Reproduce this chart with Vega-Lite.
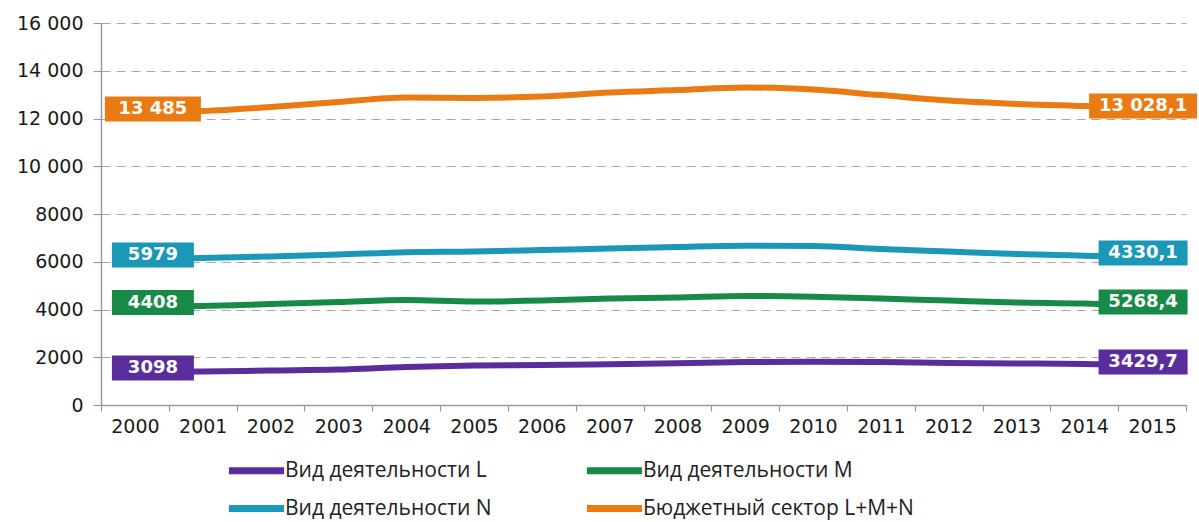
{
  "$schema": "https://vega.github.io/schema/vega-lite/v6.json",
  "width": 1085,
  "height": 382,
  "autosize": {"type": "none"},
  "padding": {"left": 101, "top": 23, "right": 13, "bottom": 117},
  "background": "white",
  "config": {
    "view": {"stroke": null},
    "axis": {"labelFont": "DejaVu Sans", "labelFontSize": 19, "labelColor": "#1a1a1a", "domainColor": "#9a9a9a", "tickColor": "#9a9a9a", "domainWidth": 1.5, "tickWidth": 1.2}
  },
  "datasets": {
    "lines": [
      {"series": "Вид деятельности L", "year": "2000", "value": 1380},
      {"series": "Вид деятельности L", "year": "2001", "value": 1400},
      {"series": "Вид деятельности L", "year": "2002", "value": 1445},
      {"series": "Вид деятельности L", "year": "2003", "value": 1485},
      {"series": "Вид деятельности L", "year": "2004", "value": 1590},
      {"series": "Вид деятельности L", "year": "2005", "value": 1655},
      {"series": "Вид деятельности L", "year": "2006", "value": 1675},
      {"series": "Вид деятельности L", "year": "2007", "value": 1705},
      {"series": "Вид деятельности L", "year": "2008", "value": 1745},
      {"series": "Вид деятельности L", "year": "2009", "value": 1800},
      {"series": "Вид деятельности L", "year": "2010", "value": 1815},
      {"series": "Вид деятельности L", "year": "2011", "value": 1800},
      {"series": "Вид деятельности L", "year": "2012", "value": 1760},
      {"series": "Вид деятельности L", "year": "2013", "value": 1740},
      {"series": "Вид деятельности L", "year": "2014", "value": 1715},
      {"series": "Вид деятельности L", "year": "2015", "value": 1635},
      {"series": "Вид деятельности M", "year": "2000", "value": 4125},
      {"series": "Вид деятельности M", "year": "2001", "value": 4145},
      {"series": "Вид деятельности M", "year": "2002", "value": 4230},
      {"series": "Вид деятельности M", "year": "2003", "value": 4315},
      {"series": "Вид деятельности M", "year": "2004", "value": 4400},
      {"series": "Вид деятельности M", "year": "2005", "value": 4335},
      {"series": "Вид деятельности M", "year": "2006", "value": 4375},
      {"series": "Вид деятельности M", "year": "2007", "value": 4460},
      {"series": "Вид деятельности M", "year": "2008", "value": 4500},
      {"series": "Вид деятельности M", "year": "2009", "value": 4565},
      {"series": "Вид деятельности M", "year": "2010", "value": 4535},
      {"series": "Вид деятельности M", "year": "2011", "value": 4460},
      {"series": "Вид деятельности M", "year": "2012", "value": 4375},
      {"series": "Вид деятельности M", "year": "2013", "value": 4295},
      {"series": "Вид деятельности M", "year": "2014", "value": 4250},
      {"series": "Вид деятельности M", "year": "2015", "value": 4145},
      {"series": "Вид деятельности N", "year": "2000", "value": 6115},
      {"series": "Вид деятельности N", "year": "2001", "value": 6160},
      {"series": "Вид деятельности N", "year": "2002", "value": 6220},
      {"series": "Вид деятельности N", "year": "2003", "value": 6300},
      {"series": "Вид деятельности N", "year": "2004", "value": 6400},
      {"series": "Вид деятельности N", "year": "2005", "value": 6430},
      {"series": "Вид деятельности N", "year": "2006", "value": 6490},
      {"series": "Вид деятельности N", "year": "2007", "value": 6555},
      {"series": "Вид деятельности N", "year": "2008", "value": 6620},
      {"series": "Вид деятельности N", "year": "2009", "value": 6670},
      {"series": "Вид деятельности N", "year": "2010", "value": 6660},
      {"series": "Вид деятельности N", "year": "2011", "value": 6535},
      {"series": "Вид деятельности N", "year": "2012", "value": 6430},
      {"series": "Вид деятельности N", "year": "2013", "value": 6325},
      {"series": "Вид деятельности N", "year": "2014", "value": 6255},
      {"series": "Вид деятельности N", "year": "2015", "value": 6200},
      {"series": "Бюджетный сектор L+M+N", "year": "2000", "value": 12230},
      {"series": "Бюджетный сектор L+M+N", "year": "2001", "value": 12310},
      {"series": "Бюджетный сектор L+M+N", "year": "2002", "value": 12480},
      {"series": "Бюджетный сектор L+M+N", "year": "2003", "value": 12690},
      {"series": "Бюджетный сектор L+M+N", "year": "2004", "value": 12880},
      {"series": "Бюджетный сектор L+M+N", "year": "2005", "value": 12860},
      {"series": "Бюджетный сектор L+M+N", "year": "2006", "value": 12920},
      {"series": "Бюджетный сектор L+M+N", "year": "2007", "value": 13090},
      {"series": "Бюджетный сектор L+M+N", "year": "2008", "value": 13190},
      {"series": "Бюджетный сектор L+M+N", "year": "2009", "value": 13300},
      {"series": "Бюджетный сектор L+M+N", "year": "2010", "value": 13210},
      {"series": "Бюджетный сектор L+M+N", "year": "2011", "value": 12980},
      {"series": "Бюджетный сектор L+M+N", "year": "2012", "value": 12750},
      {"series": "Бюджетный сектор L+M+N", "year": "2013", "value": 12610},
      {"series": "Бюджетный сектор L+M+N", "year": "2014", "value": 12520},
      {"series": "Бюджетный сектор L+M+N", "year": "2015", "value": 12360}
    ],
    "labels": [
      {"series": "Вид деятельности L", "year": "2000", "value": 1380, "label": "3098", "side": "left"},
      {"series": "Вид деятельности L", "year": "2015", "value": 1635, "label": "3429,7", "side": "right"},
      {"series": "Вид деятельности M", "year": "2000", "value": 4125, "label": "4408", "side": "left"},
      {"series": "Вид деятельности M", "year": "2015", "value": 4145, "label": "5268,4", "side": "right"},
      {"series": "Вид деятельности N", "year": "2000", "value": 6115, "label": "5979", "side": "left"},
      {"series": "Вид деятельности N", "year": "2015", "value": 6200, "label": "4330,1", "side": "right"},
      {"series": "Бюджетный сектор L+M+N", "year": "2000", "value": 12230, "label": "13 485", "side": "left"},
      {"series": "Бюджетный сектор L+M+N", "year": "2015", "value": 12360, "label": "13 028,1", "side": "right"}
    ]
  },
  "encoding": {
    "x": {
      "field": "year", "type": "ordinal", "bandPosition": 0.5,
      "scale": {"type": "band", "paddingInner": 0, "paddingOuter": 0},
      "axis": {"title": null, "labelAngle": 0, "tickBand": "extent", "tickSize": 6, "labelPadding": 6, "grid": false}
    },
    "y": {
      "field": "value", "type": "quantitative",
      "scale": {"domain": [0, 16000], "nice": false},
      "axis": {
        "title": null, "values": [0, 2000, 4000, 6000, 8000, 10000, 12000, 14000, 16000],
        "labelExpr": "datum.value >= 10000 ? replace(format(datum.value, ','), ',', ' ') : format(datum.value, 'd')",
        "grid": true, "gridDash": [9, 6], "gridColor": "#a8a8a8", "gridWidth": 1.2,
        "tickSize": 8, "labelPadding": 10
      }
    }
  },
  "layer": [
    {
      "data": {"name": "lines"},
      "mark": {"type": "line", "strokeWidth": 6, "interpolate": "monotone", "strokeCap": "butt"},
      "encoding": {
        "color": {
          "field": "series", "type": "nominal",
          "scale": {"domain": ["Вид деятельности L", "Вид деятельности M", "Вид деятельности N", "Бюджетный сектор L+M+N"], "range": ["#5a2d9c", "#178a48", "#1b98b7", "#ea7b12"]},
          "legend": {"orient": "none", "legendX": 132, "legendY": 424, "direction": "horizontal", "columns": 2, "title": null, "symbolType": "M-1.38,0L1.38,0", "symbolSize": 1600, "symbolStrokeWidth": 7, "labelFont": "Open Sans", "labelFontSize": 21, "labelLimit": 500, "labelColor": "#222222", "columnPadding": 80, "rowPadding": 0, "labelOffset": 5, "padding": 0}
        }
      }
    },
    {
      "data": {"name": "labels"},
      "transform": [{"filter": "datum.side == 'left'"}],
      "mark": {"type": "tick", "thickness": 25, "xOffset": 18, "yOffset": -4, "opacity": 1},
      "encoding": {
        "color": {"field": "series", "type": "nominal", "legend": null},
        "size": {"condition": {"test": "datum.series == 'Бюджетный сектор L+M+N'", "value": 96}, "value": 82}
      }
    },
    {
      "data": {"name": "labels"},
      "transform": [{"filter": "datum.side == 'right'"}],
      "mark": {"type": "tick", "thickness": 25, "xOffset": -9, "yOffset": -4, "opacity": 1},
      "encoding": {
        "color": {"field": "series", "type": "nominal", "legend": null},
        "size": {"condition": {"test": "datum.series == 'Бюджетный сектор L+M+N'", "value": 108}, "value": 89}
      }
    },
    {
      "data": {"name": "labels"},
      "transform": [{"filter": "datum.side == 'left'"}],
      "mark": {"type": "text", "xOffset": 18, "yOffset": -4, "font": "DejaVu Sans", "fontWeight": "bold", "fontSize": 18, "fill": "white", "baseline": "middle", "align": "center"},
      "encoding": {"text": {"field": "label"}}
    },
    {
      "data": {"name": "labels"},
      "transform": [{"filter": "datum.side == 'right'"}],
      "mark": {"type": "text", "xOffset": -9, "yOffset": -4, "font": "DejaVu Sans", "fontWeight": "bold", "fontSize": 18, "fill": "white", "baseline": "middle", "align": "center"},
      "encoding": {"text": {"field": "label"}}
    }
  ]
}
